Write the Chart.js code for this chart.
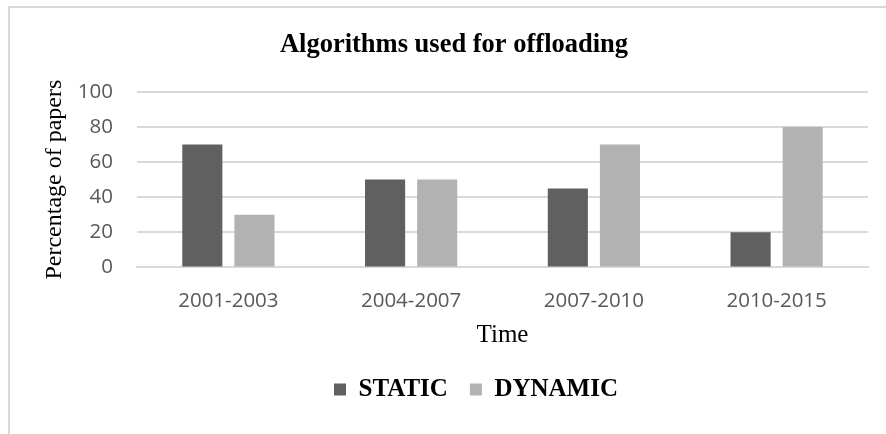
<!DOCTYPE html>
<html>
<head>
<meta charset="utf-8">
<script src="https://cdn.jsdelivr.net/npm/chart.js@4/dist/chart.umd.min.js"></script>
<style>
  body { margin: 0; background: #fff; overflow: hidden; }
  .frame {
    position: absolute; left: 8px; top: 6px;
    width: 890px; height: 440px;
    border-top: 2px solid #d9d9d9; border-left: 2px solid #d9d9d9;
  }
  canvas { display: block; }
</style>
</head>
<body>
<div class="frame">
  <canvas id="offloadChart" width="876" height="426"></canvas>
</div>
<script>
const periods = ['2001-2003', '2004-2007', '2007-2010', '2010-2015'];
const staticAlgs = [70, 50, 45, 20];
const dynamicAlgs = [30, 50, 70, 80];
const yTicks = [0, 20, 40, 60, 80, 100];

// nudge the legend a bit to the right, like the original
const legendShift = {
    id: 'legendShift',
    afterLayout(chart) {
        chart.legend.left += 22;
        chart.legend.right += 22;
    }
};

const ctx = document.getElementById('offloadChart').getContext('2d');

new Chart(ctx, {
    type: 'bar',
    data: {
        labels: periods,
        datasets: [{
            label: 'STATIC',
            data: staticAlgs,
            backgroundColor: '#606060'
        }, {
            label: 'DYNAMIC',
            data: dynamicAlgs,
            backgroundColor: '#b2b2b2'
        }]
    },
    plugins: [legendShift],
    options: {
        responsive: false,
        animation: false,
        categoryPercentage: 0.57,
        barPercentage: 0.77,
        layout: {
            padding: { left: 30, right: 18, top: 0, bottom: 22 }
        },
        plugins: {
            title: {
                display: true,
                text: 'Algorithms used for offloading',
                color: '#000',
                font: { family: '"Liberation Serif", serif', size: 26.5, weight: 'bold' },
                padding: { top: 21, bottom: 31 }
            },
            legend: {
                position: 'bottom',
                labels: {
                    color: '#000',
                    boxWidth: 12,
                    boxHeight: 12,
                    padding: 22,
                    font: { family: '"Liberation Serif", serif', size: 25, weight: 'bold' }
                }
            },
            tooltip: { enabled: false }
        },
        scales: {
            x: {
                grid: { display: false },
                border: { color: '#d9d9d9', width: 2 },
                ticks: {
                    color: '#595959',
                    padding: 13,
                    font: { family: '"Open Sans", sans-serif', size: 20.5 }
                },
                title: {
                    display: true,
                    text: 'Time',
                    color: '#000',
                    padding: { top: -6, bottom: 5 },
                    font: { family: '"Liberation Serif", serif', size: 25 }
                }
            },
            y: {
                min: 0,
                max: 100,
                afterBuildTicks: axis => { axis.ticks = yTicks.map(v => ({ value: v })); },
                afterFit: axis => { axis.width = 97; },
                grid: { color: '#d9d9d9', lineWidth: 2, drawTicks: false },
                border: { display: false },
                ticks: {
                    color: '#595959',
                    padding: 24,
                    font: { family: '"Open Sans", sans-serif', size: 20.5 }
                },
                title: {
                    display: true,
                    text: 'Percentage of papers',
                    color: '#000',
                    padding: { top: 0, bottom: 0 },
                    font: { family: '"Liberation Serif", serif', size: 24 }
                }
            }
        }
    }
});
</script>
</body>
</html>
